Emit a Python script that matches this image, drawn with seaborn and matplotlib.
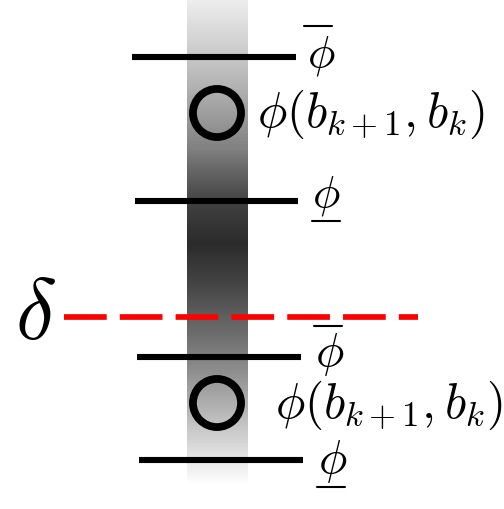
import matplotlib
matplotlib.use("Agg")
import matplotlib.pyplot as plt
import numpy as np
import seaborn as sns
from matplotlib.colors import LinearSegmentedColormap

# horizontal levels (pixel space, y grows downward)
level_y = [58, 202, 358, 461]
level_x0 = [132, 135, 137, 139]
level_x1 = [296, 298, 301, 303]

# circles phi(b_{k+1}, b_k)
circle_x = [217, 217]
circle_y = [114, 404]

# threshold delta
delta_y = 318
delta_x = [64, 418]

# shaded column: position along the bar (0 top, 1 bottom) and gray level
shade_pos = [0.0, 0.12, 0.234, 0.308, 0.35, 0.43, 0.503, 0.58, 0.657, 0.735, 0.83, 0.903, 1.0]
shade_gray = [0.93, 0.78, 0.62, 0.50, 0.40, 0.24, 0.17, 0.26, 0.38, 0.50, 0.68, 0.82, 1.0]
bar_x = [187, 248]
bar_y = [0, 487]

sns.set_theme(style="white")
plt.rcParams["mathtext.fontset"] = "cm"
plt.rcParams["text.color"] = "black"

fig = plt.figure(figsize=(5.04, 5.10), dpi=100)
ax = fig.add_axes([0, 0, 1, 1])
ax.set_xlim(0, 504)
ax.set_ylim(510, 0)
ax.axis("off")

cmap = LinearSegmentedColormap.from_list(
    "shade", [(p, (g, g, g)) for p, g in zip(shade_pos, shade_gray)]
)
column = np.linspace(0, 1, 400).reshape(-1, 1)
ax.imshow(column, cmap=cmap, vmin=0, vmax=1, aspect="auto",
          extent=[bar_x[0], bar_x[1], bar_y[1], bar_y[0]], zorder=1)

ax.hlines(level_y, level_x0, level_x1, color="black", linewidth=4.4, zorder=3)

sns.scatterplot(x=circle_x, y=circle_y, s=1200, facecolor="none",
                edgecolor="black", linewidth=5.6, ax=ax, zorder=4)

ax.plot(delta_x, [delta_y, delta_y], color="red", linewidth=4.1,
        dashes=(7.5, 2.3), solid_capstyle="butt", dash_capstyle="butt", zorder=5)
ax.text(15, 316, r"$\delta$", fontsize=62, ha="left", va="center")

# upper bracket: phi bar, phi(b_{k+1}, b_k), phi underline
ax.text(307, 56, r"$\phi$", fontsize=33, ha="left", va="center")
ax.plot([304, 332], [27, 27], color="black", linewidth=1.5)
ax.text(257, 114, r"$\phi(b_{k+1},b_k)$", fontsize=35.5, ha="left", va="center")
ax.text(312, 196, r"$\phi$", fontsize=33, ha="left", va="center")
ax.plot([312, 340], [222, 222], color="black", linewidth=1.5)

# lower bracket
ax.text(315, 355, r"$\phi$", fontsize=34, ha="left", va="center")
ax.plot([314, 342], [327, 327], color="black", linewidth=1.5)
ax.text(275, 405, r"$\phi(b_{k+1},b_k)$", fontsize=35.5, ha="left", va="center")
ax.text(318, 462, r"$\phi$", fontsize=34, ha="left", va="center")
ax.plot([317, 345], [488, 488], color="black", linewidth=1.5)

fig.savefig("out.png", dpi=100)
